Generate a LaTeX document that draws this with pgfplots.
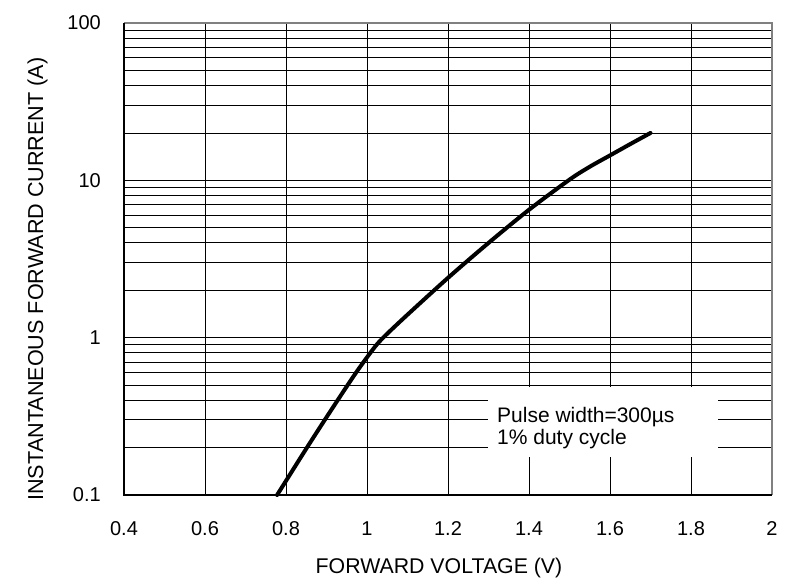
\documentclass[border=0pt]{standalone}
\usepackage{pgfplots}
\pgfplotsset{compat=1.18}
\usepackage{fontspec}
\setmainfont{Liberation Sans}

\newcommand{\tickfont}{\fontsize{20}{24}\selectfont}

\begin{document}
\begin{tikzpicture}
    \path[use as bounding box] (0pt,0pt) rectangle (801pt,579pt);
    \begin{axis}[
        at={(124pt,84pt)}, anchor=south west,
        scale only axis,
        width=648pt, height=472pt,
        xmin=0.4, xmax=2,
        ymode=log, ymin=0.1, ymax=100,
        xtick={0.4,0.6,0.8,1,1.2,1.4,1.6,1.8,2},
        xticklabels={0.4,0.6,0.8,1,1.2,1.4,1.6,1.8,2},
        ytick={0.1,1,10,100},
        yticklabels={0.1,1,10,100},
        major tick length=0pt, minor tick length=0pt,
        xmajorgrids=true, ymajorgrids=true, yminorgrids=true,
        grid style={black, line width=0.9pt},
        minor grid style={black, line width=0.9pt},
        axis line style={draw=none},
        every tick label/.append style={font=\tickfont, inner sep=0pt},
        xticklabel style={font=\tickfont, anchor=base, yshift=-40pt},
        yticklabel style={font=\tickfont, anchor=east, xshift=-23pt},
        clip=false,
    ]
        % forward characteristic
        \addplot[black, line width=4pt, smooth, line cap=round] coordinates {
            (0.778,0.1)
            (0.80,0.123)
            (0.85,0.197)
            (0.90,0.312)
            (0.95,0.49)
            (0.975,0.61)
            (1.00,0.75)
            (1.025,0.91)
            (1.05,1.06)
            (1.10,1.40)
            (1.2,2.4)
            (1.3,4.0)
            (1.4,6.5)
            (1.5,10.1)
            (1.55,12.2)
            (1.6,14.4)
            (1.65,17.0)
            (1.7,20)
        };

        % frame
        \draw[gray, line width=2pt] (rel axis cs:0,1) -- (rel axis cs:1,1) -- (rel axis cs:1,0);
        \draw[black, line width=2pt] (rel axis cs:0,1) -- (rel axis cs:0,0) -- (rel axis cs:1,0);

        % note box
        \fill[white] (axis cs:1.299,0.174) rectangle (axis cs:1.867,0.486);
        \node[anchor=base west, inner sep=0pt, font=\fontsize{21}{25}\selectfont]
            at (axis cs:1.321,0.291) {Pulse width=300µs};
        \node[anchor=base west, inner sep=0pt, font=\fontsize{21}{25}\selectfont]
            at (axis cs:1.321,0.208) {1\% duty cycle};
    \end{axis}
    \node[anchor=base, inner sep=0pt, font=\fontsize{21.3}{25}\selectfont]
        at (439pt,6pt) {FORWARD VOLTAGE (V)};
    \node[anchor=base, rotate=90, inner sep=0pt, font=\fontsize{21.6}{25}\selectfont]
        at (43pt,300pt) {INSTANTANEOUS FORWARD CURRENT (A)};
\end{tikzpicture}
\end{document}
